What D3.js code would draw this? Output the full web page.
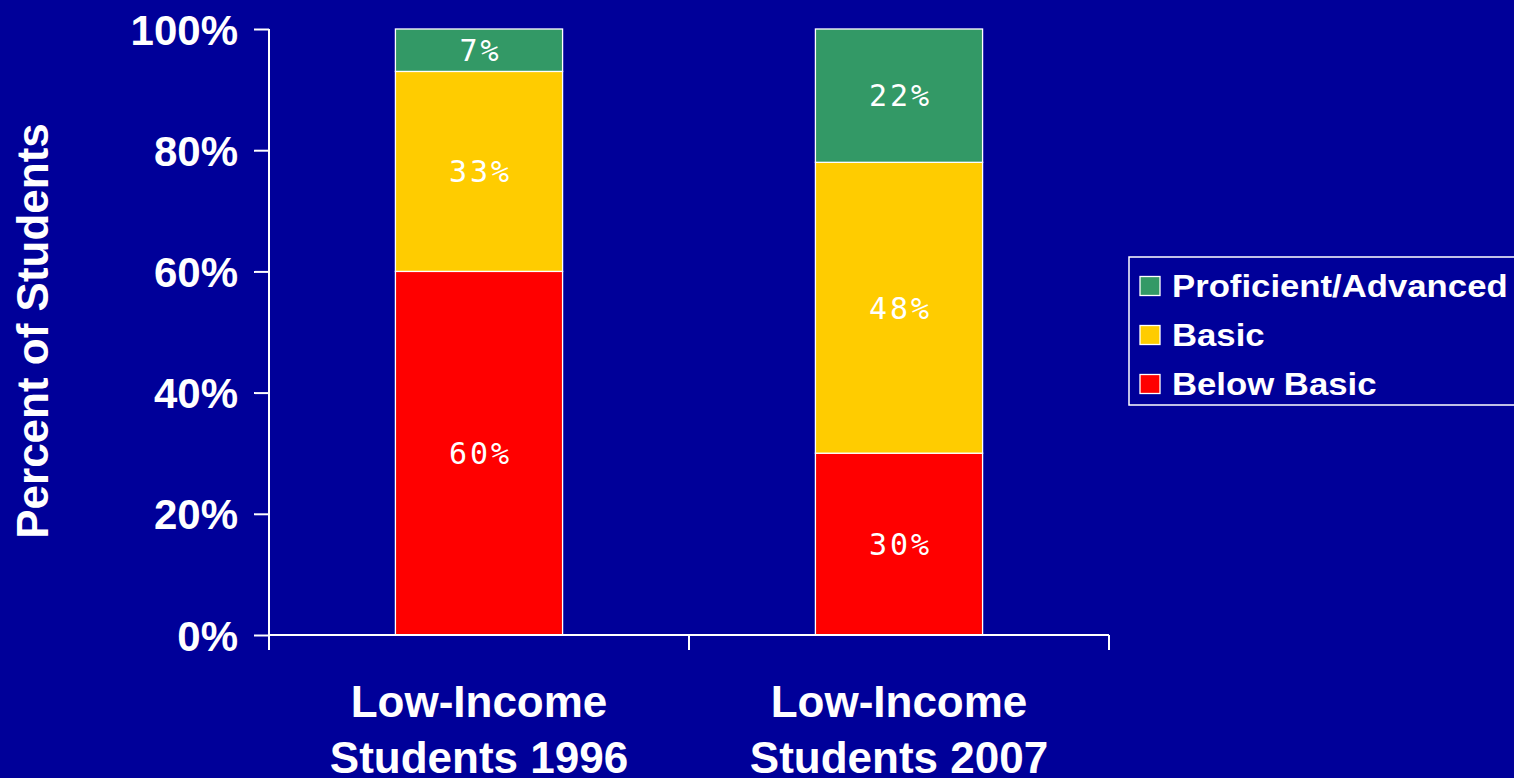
<!DOCTYPE html>
<html>
<head>
<meta charset="utf-8">
<script src="https://cdn.jsdelivr.net/npm/d3@7"></script>
<style>
	html, body { margin: 0; padding: 0; background: #000099; overflow: hidden; }
	svg { display: block; }
</style>
</head>
<body>
<div id="chart"></div>
<script>
// chart data
var categories = ["Low-Income|Students 1996", "Low-Income|Students 2007"];
var seriesNames = ["Below Basic", "Basic", "Proficient/Advanced"];
var belowBasic = [60, 30];
var basic = [33, 48];
var proficient = [7, 22];
var yTicks = [0, 20, 40, 60, 80, 100];
var legendOrder = ["Proficient/Advanced", "Basic", "Below Basic"];

var colors = {
	"Below Basic": "#FF0000",
	"Basic": "#FFCC00",
	"Proficient/Advanced": "#339966"
};

var width = 1514, height = 778;
var plot = {left: 269, right: 1109, top: 29, bottom: 635};
var sansFont = "'Liberation Sans', Arial, sans-serif";

var svg = d3.select("#chart").append("svg")
	.attr("width", width)
	.attr("height", height);

svg.append("rect")
	.attr("width", width)
	.attr("height", height)
	.attr("fill", "#000099");

var xScale = d3.scaleBand()
	.domain(categories)
	.range([plot.left, plot.right])
	.paddingInner(0)
	.paddingOuter(0);

var yScale = d3.scaleLinear()
	.domain([0, 100])
	.range([plot.bottom, plot.top]);

// build stacked rows from the series arrays
var rows = categories.map(function(c, i) {
	return {cat: c, "Below Basic": belowBasic[i], "Basic": basic[i], "Proficient/Advanced": proficient[i]};
});
var stacked = d3.stack().keys(seriesNames)(rows);

var barWidth = xScale.bandwidth() * 0.398;

stacked.forEach(function(layer) {
	var g = svg.append("g");
	layer.forEach(function(d) {
		var cx = xScale(d.data.cat) + xScale.bandwidth() / 2;
		var y0 = yScale(d[0]), y1 = yScale(d[1]);
		g.append("rect")
			.attr("x", cx - barWidth / 2)
			.attr("y", y1)
			.attr("width", barWidth)
			.attr("height", y0 - y1)
			.attr("fill", colors[layer.key])
			.attr("stroke", "#ffffff")
			.attr("stroke-width", 1.3);
		g.append("text")
			.attr("x", cx + 1.5)
			.attr("y", (y0 + y1) / 2)
			.attr("dy", "0.36em")
			.attr("text-anchor", "middle")
			.attr("fill", "#ffffff")
			.attr("font-family", "'DejaVu Sans Mono', monospace")
			.attr("font-size", 30)
			.attr("letter-spacing", 3)
			.text((d[1] - d[0]) + "%");
	});
});

// y axis
var yAxis = d3.axisLeft(yScale)
	.tickValues(yTicks)
	.tickSize(15)
	.tickPadding(16)
	.tickFormat(function(v) { return v + "%"; });

var yg = svg.append("g")
	.attr("transform", "translate(" + plot.left + ",0)")
	.call(yAxis);
yg.select(".domain").remove();
yg.append("line")
	.attr("x1", 0).attr("x2", 0)
	.attr("y1", plot.top).attr("y2", plot.bottom + 15)
	.attr("stroke", "#ffffff").attr("stroke-width", 2);
yg.selectAll(".tick line").attr("stroke", "#ffffff").attr("stroke-width", 2);
yg.selectAll(".tick text")
	.attr("fill", "#ffffff")
	.attr("font-family", sansFont)
	.attr("font-weight", "bold")
	.attr("font-size", 42)
	.attr("dy", "0.36em");

// x axis line and category boundary ticks
svg.append("line")
	.attr("x1", plot.left).attr("x2", plot.right)
	.attr("y1", plot.bottom).attr("y2", plot.bottom)
	.attr("stroke", "#ffffff").attr("stroke-width", 2);

var bounds = categories.map(function(c) { return xScale(c); }).concat([plot.right]);
svg.selectAll(".xbound").data(bounds.slice(1)).enter().append("line")
	.attr("x1", function(d) { return d; }).attr("x2", function(d) { return d; })
	.attr("y1", plot.bottom).attr("y2", plot.bottom + 15)
	.attr("stroke", "#ffffff").attr("stroke-width", 2);

// category labels
categories.forEach(function(c) {
	var cx = xScale(c) + xScale.bandwidth() / 2;
	var t = svg.append("text")
		.attr("text-anchor", "middle")
		.attr("fill", "#ffffff")
		.attr("font-family", sansFont)
		.attr("font-weight", "bold")
		.attr("font-size", 44);
	c.split("|").forEach(function(line, i) {
		t.append("tspan")
			.attr("x", cx)
			.attr("y", 717 + i * 56)
			.text(line);
	});
});

// y axis title
svg.append("text")
	.attr("transform", "translate(48,331) rotate(-90)")
	.attr("text-anchor", "middle")
	.attr("fill", "#ffffff")
	.attr("font-family", sansFont)
	.attr("font-weight", "bold")
	.attr("font-size", 44)
	.text("Percent of Students");

// legend
var legend = svg.append("g").attr("transform", "translate(1129,257)");
legend.append("rect")
	.attr("x", 0).attr("y", 0)
	.attr("width", 400).attr("height", 148)
	.attr("fill", "none")
	.attr("stroke", "#ffffff")
	.attr("stroke-width", 1.5);

legendOrder.forEach(function(name, i) {
	var y = 29 + i * 49;
	legend.append("rect")
		.attr("x", 11).attr("y", y - 9.5)
		.attr("width", 20).attr("height", 19)
		.attr("fill", colors[name])
		.attr("stroke", "#ffffff")
		.attr("stroke-width", 1.3);
	legend.append("text")
		.attr("transform", "translate(43," + y + ") scale(1.12,1)")
		.attr("dy", "0.36em")
		.attr("fill", "#ffffff")
		.attr("font-family", sansFont)
		.attr("font-weight", "bold")
		.attr("font-size", 31)
		.text(name);
});
</script>
</body>
</html>
